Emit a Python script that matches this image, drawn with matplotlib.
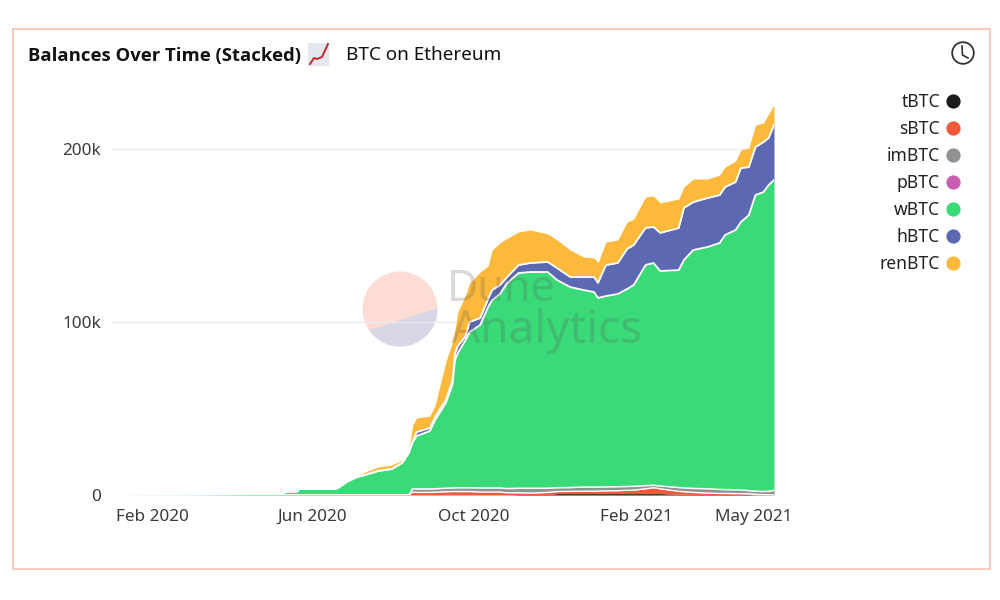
import matplotlib
matplotlib.use("Agg")
import matplotlib.pyplot as plt
import pandas as pd
from matplotlib.patches import Circle, Polygon, Rectangle

FONT = "Noto Sans"
plt.rcParams["font.family"] = FONT

dates = ["2020-01-01","2020-03-08","2020-04-15","2020-05-10","2020-05-12","2020-05-21","2020-05-22",
 "2020-06-17","2020-06-20","2020-06-27","2020-07-05","2020-07-11","2020-07-21","2020-07-31","2020-08-08",
 "2020-08-13","2020-08-16","2020-08-19","2020-08-29","2020-09-02","2020-09-10","2020-09-15","2020-09-17",
 "2020-09-19","2020-09-25","2020-09-28","2020-10-06","2020-10-12","2020-10-15","2020-10-21","2020-10-26",
 "2020-11-04","2020-11-13","2020-11-26","2020-12-03","2020-12-13","2020-12-23","2020-12-31","2021-01-03",
 "2021-01-09","2021-01-18","2021-01-25","2021-01-30","2021-02-08","2021-02-14","2021-02-19","2021-03-05",
 "2021-03-09","2021-03-16","2021-03-27","2021-04-05","2021-04-09","2021-04-17","2021-04-21","2021-04-27",
 "2021-05-02","2021-05-08","2021-05-12","2021-05-16"]

# balances, thousands of BTC
tBTC = [0]*31 + [0.3,0.3,0.3,0.8,0.8,0.8,0.8,0.8,0.8,0.8,0.8,0.8,0.8,0.8,0.8,0.4,0.4,0.3,0.3,0.3,0.3,0.3,0.3,0.3,0.1,0,0,0]
sBTC = [0]*16 + [1.7,1.5,1.5,1.6,1.9,2.0,2.0,2.0,2.0,2.0,1.7,1.7,1.7,1.7,1.3,
 1.0,0.8,1.2,1.2,1.3,1.4,1.4,1.5,1.6,1.7,1.9,2.0,2.8,3.4,2.8,1.7,1.5,1.2,0.8,0.6,0.6,0.5,0.5,0.4,0.3,0.2,0.2,0.1]
imBTC = [0]*16 + [2.0,2.0,2.0,2.0,2.0,2.1,2.1,2.2,2.2,2.2,2.4,2.4,2.4,2.4,2.4,
 2.6,2.8,2.4,2.2,2.2,2.4,2.4,2.3,2.3,2.3,2.2,2.2,1.8,1.4,1.6,2.2,2.2,2.3,2.5,2.3,2.2,2.2,2.1,1.8,1.8,1.8,1.9,2.6]
pBTC = [0]*59
wBTC = [0,0.1,0.3,0.6,1.7,2.0,3.5,3.5,3.8,7.5,10.4,11.6,13.9,15.0,18.5,24.3,26.9,30.6,33.5,39.8,49.3,59.5,73.9,
 77.8,85.4,90.0,94.2,104.6,108.6,112.1,118.5,124.4,125.0,125.0,120.1,115.9,113.9,112.7,109.3,110.3,111.4,114.2,
 116.4,127.6,128.5,124.3,125.7,131.8,137.8,139.8,142.5,147.2,150.2,154.9,159.3,171.2,173.1,177.1,179.4]
hBTC = [0]*16 + [0.6,2.3,1.7,1.7,1.7,2.3,4.0,4.0,2.3,5.8,4.0,4.6,5.8,5.2,3.5,4.6,5.2,5.8,6.9,5.8,7.5,8.7,8.7,
 17.9,17.9,23.1,23.1,21.4,20.8,22.0,24.3,30.1,27.7,28.3,27.7,27.7,27.7,31.2,27.7,27.7,28.9,27.2,31.8]
renBTC = [0]*9 + [0.6,0.6,1.7,2.3,2.3,1.7,1.2,9.2,8.1,6.9,6.9,22.0,22.5,13.3,19.7,23.7,22.5,26.6,19.1,23.1,24.3,
 22.5,19.1,19.1,16.2,16.2,15.6,11.6,11.0,11.6,13.3,13.3,15.6,15.0,17.9,17.9,17.3,16.8,12.1,13.3,11.0,11.6,11.6,
 12.1,10.4,11.0,12.7,11.0,13.9,11.6]

names = ["tBTC","sBTC","imBTC","pBTC","wBTC","hBTC","renBTC"]
series = [tBTC,sBTC,imBTC,pBTC,wBTC,hBTC,renBTC]
colors = ["#1c1c1c","#f0593a","#919191","#c85fb3","#3bda78","#5c68b2","#fcb93c"]
edge_w = [0,1.0,1.1,0,1.3,1.3,0]

tick_dates = ["2020-02-01","2020-06-01","2020-10-01","2021-02-01","2021-05-01"]
tick_labels = ["Feb 2020","Jun 2020","Oct 2020","Feb 2021","May 2021"]
y_ticks = [0,100,200]
y_labels = ["0","100k","200k"]

fig = plt.figure(figsize=(10,6), dpi=100, facecolor="white")

def overlay(z):
    a = fig.add_axes([0,0,1,1], zorder=z)
    a.set_xlim(0,1000); a.set_ylim(600,0); a.axis("off")
    a.patch.set_alpha(0)
    return a

bg = overlay(0)
fg = overlay(3)

# frame
bg.add_patch(Rectangle((12.5,28.5),977,540,fill=False,ec="#f8cabd",lw=1.4))

# logo
c = Circle((400,309),37.5,fc="#fddcd6",ec="none"); bg.add_patch(c)
seg = Polygon([(362,336),(369,330),(438,308),(438,350),(362,350)],fc="#d7d7e6",ec="none")
bg.add_patch(seg); seg.set_clip_path(c)

# main axes
ax = fig.add_axes([0.111,0.175,0.663,0.6583], zorder=1)
ax.patch.set_alpha(0)
x = pd.to_datetime(dates)
ax.set_xlim(x[0],x[-1])
ax.set_ylim(0,(495-100)/1.73)
ax.set_axisbelow(True)
ax.yaxis.grid(True,color="#ececf0",lw=1)
bottom = [0.0]*len(x)
for name,vals,col in zip(names,series,colors):
    top = [b+v for b,v in zip(bottom,vals)]
    if max(vals)>0:
        ax.fill_between(x,bottom,top,color=col,lw=0,label=name)
    bottom = top
# white separators on the upper edges
bottom = [0.0]*len(x)
for name,vals,lw in zip(names,series,edge_w):
    top = [b+v for b,v in zip(bottom,vals)]
    if lw>0:
        ax.plot(x,top,color="white",lw=lw,solid_joinstyle="round")
    bottom = top
for s in ax.spines.values():
    s.set_visible(False)
ax.set_yticks(y_ticks)
ax.set_yticklabels(y_labels)
ax.set_xticks(pd.to_datetime(tick_dates))
ax.set_xticklabels(tick_labels)
ax.tick_params(length=0,labelsize=12.3,labelcolor="#3a3a3a")
ax.tick_params(axis="y",pad=7)
ax.tick_params(axis="x",pad=10)

# watermark text
fg.text(447,290,"Dune",fontsize=31,color="#555555",alpha=0.22,va="center",ha="left")
fg.text(451,331,"Analytics",fontsize=33,color="#555555",alpha=0.22,va="center",ha="left")

# title
fg.text(28,55.5,"Balances Over Time (Stacked)",fontsize=13.3,fontweight="bold",family="Open Sans",color="#111111",va="center")
fg.text(346,55.5,"BTC on Ethereum",fontsize=13.6,color="#111111",va="center")
fg.add_patch(Rectangle((308,43),21,23,fc="#e4e8ee",ec="none"))
fg.plot([310,314,317,322,328],[64,58,59,57,44],color="#c4272d",lw=1.4)

# clock icon
fg.add_patch(Circle((963,53),10.8,fill=False,ec="#333333",lw=1.3))
fg.plot([962,962.5,968],[46,55,58],color="#333333",lw=1.2)

# legend
for i,(n,col) in enumerate(zip(names,colors)):
    yy = 101+27*i
    fg.text(940,yy+0.8,n,fontsize=12.6,color="#222222",ha="right",va="center")
    fg.scatter([953],[yy],s=105,color=col,linewidths=0)

fig.savefig("out.png",dpi=100)
